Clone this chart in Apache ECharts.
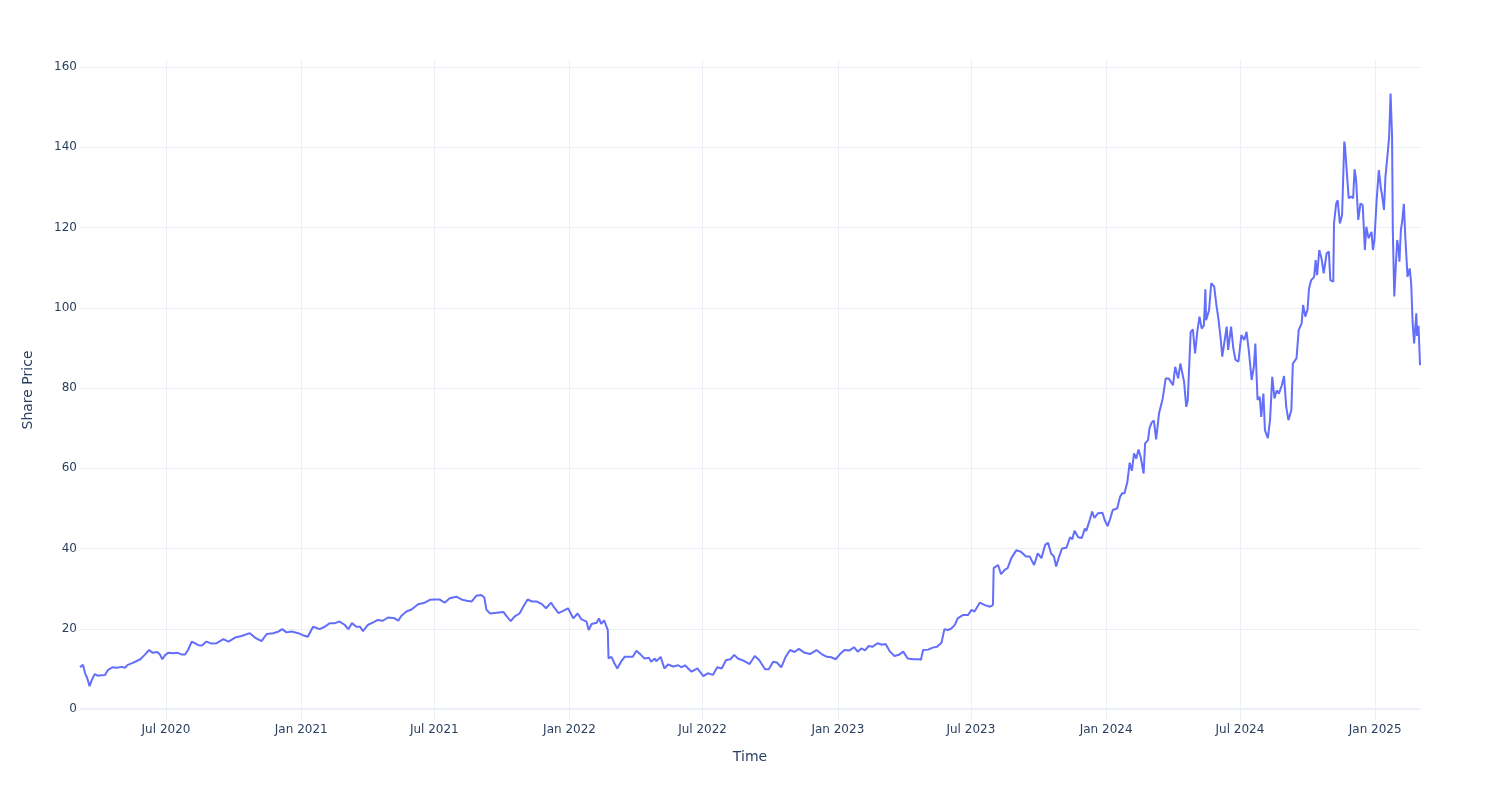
<!DOCTYPE html>
<html><head><meta charset="utf-8">
<script src="https://cdn.jsdelivr.net/npm/echarts@6/dist/echarts.min.js"></script>
<style>html,body{margin:0;padding:0;background:#fff}#c{width:1500px;height:800px}</style>
</head><body><div id="c"></div>
<script>
const dates2020 = ['2020-03-06','2020-03-10','2020-03-13','2020-03-16','2020-03-19','2020-03-22','2020-03-26','2020-03-30',
'2020-04-04','2020-04-09','2020-04-13','2020-04-19','2020-04-25',
'2020-05-02','2020-05-06','2020-05-10','2020-05-17','2020-05-27',
'2020-06-02','2020-06-08','2020-06-13','2020-06-19','2020-06-23','2020-06-26','2020-06-30',
'2020-07-04','2020-07-11','2020-07-17','2020-07-22','2020-07-27','2020-07-31',
'2020-08-05','2020-08-09','2020-08-14','2020-08-19','2020-08-25',
'2020-09-01','2020-09-08','2020-09-17','2020-09-24',
'2020-10-03','2020-10-12','2020-10-23','2020-10-30',
'2020-11-08','2020-11-15','2020-11-24',
'2020-12-01','2020-12-06','2020-12-12','2020-12-19','2020-12-28'];
const prices2020 = [10.4,11.0,8.9,7.6,5.7,7.2,8.7,8.3,
8.4,8.5,9.7,10.4,10.3,
10.5,10.3,11.0,11.5,12.4,
13.5,14.7,14.0,14.2,13.5,12.4,13.5,
14.0,13.9,14.0,13.6,13.6,14.7,
16.8,16.4,15.9,15.8,16.8,
16.3,16.4,17.4,16.8,
17.8,18.2,18.9,17.8,
16.9,18.7,18.9,
19.3,19.9,19.1,19.3,18.9];

const dates2021 = ['2021-01-03','2021-01-10','2021-01-17','2021-01-22','2021-01-26',
'2021-02-02','2021-02-09','2021-02-16','2021-02-22',
'2021-03-01','2021-03-06','2021-03-11','2021-03-17','2021-03-22','2021-03-26',
'2021-04-02','2021-04-09','2021-04-15','2021-04-22','2021-04-29',
'2021-05-08','2021-05-13','2021-05-17','2021-05-24','2021-05-31',
'2021-06-09','2021-06-18','2021-06-25',
'2021-07-02','2021-07-08','2021-07-15','2021-07-22','2021-07-31',
'2021-08-07','2021-08-14','2021-08-21','2021-08-27',
'2021-09-03','2021-09-07','2021-09-10','2021-09-15','2021-09-24',
'2021-10-03','2021-10-07','2021-10-13','2021-10-18','2021-10-25','2021-10-30',
'2021-11-01','2021-11-05','2021-11-11','2021-11-17','2021-11-24','2021-11-30',
'2021-12-07','2021-12-11','2021-12-17','2021-12-24','2021-12-30'];
const prices2021 = [18.4,18.0,20.5,20.2,19.9,
20.5,21.4,21.4,21.8,
21.0,19.9,21.4,20.5,20.5,19.4,
21.0,21.6,22.2,22.0,22.8,
22.6,22.0,23.2,24.3,24.8,
26.1,26.5,27.2,
27.3,27.3,26.5,27.6,28.0,
27.3,27.0,26.8,28.2,
28.4,27.8,24.7,23.8,24.0,
24.2,23.2,21.9,23.0,23.8,25.5,
25.1,27.3,26.8,26.8,26.2,25.1,
26.5,25.3,23.9,24.5,25.1];

const dates2022 = ['2022-01-06','2022-01-12','2022-01-17','2022-01-24','2022-01-27','2022-01-31',
'2022-02-07','2022-02-10','2022-02-13','2022-02-17','2022-02-22','2022-02-23','2022-02-27',
'2022-03-03','2022-03-07','2022-03-12','2022-03-17','2022-03-23','2022-03-28',
'2022-04-02','2022-04-08','2022-04-13','2022-04-19','2022-04-22','2022-04-27','2022-04-29',
'2022-05-05','2022-05-10','2022-05-15','2022-05-22','2022-05-29',
'2022-06-02','2022-06-07','2022-06-16','2022-06-24',
'2022-07-02','2022-07-08','2022-07-15','2022-07-21','2022-07-27',
'2022-08-02','2022-08-08','2022-08-13','2022-08-18','2022-08-25',
'2022-09-03','2022-09-10','2022-09-16','2022-09-24','2022-09-29',
'2022-10-05','2022-10-10','2022-10-16','2022-10-22','2022-10-28',
'2022-11-03','2022-11-09','2022-11-17','2022-11-24',
'2022-12-03','2022-12-10','2022-12-17','2022-12-23','2022-12-29'];
const prices2022 = [22.6,23.8,22.4,21.8,19.7,21.2,
21.5,22.6,21.2,22.1,19.7,12.6,13.0,
11.4,10.1,11.8,13.0,13.0,13.0,
14.5,13.5,12.6,12.8,11.8,12.6,11.9,
13.0,10.1,11.1,10.6,10.9,
10.4,10.9,9.3,10.1,
8.2,8.9,8.5,10.4,10.1,
12.2,12.4,13.5,12.6,12.1,
11.2,13.2,12.2,9.9,9.9,
11.8,11.6,10.4,13.0,14.7,
14.2,15.0,14.0,13.7,
14.7,13.7,13.0,12.9,12.4];

const dates2023 = ['2023-01-04','2023-01-10','2023-01-17','2023-01-23','2023-01-28',
'2023-02-02','2023-02-07','2023-02-12','2023-02-17','2023-02-24',
'2023-03-02','2023-03-07','2023-03-13','2023-03-19','2023-03-25','2023-03-31',
'2023-04-06','2023-04-13','2023-04-21','2023-04-24','2023-04-27',
'2023-05-04','2023-05-10','2023-05-16','2023-05-22','2023-05-26','2023-05-31',
'2023-06-04','2023-06-09','2023-06-13','2023-06-20','2023-06-27',
'2023-07-02','2023-07-06','2023-07-13','2023-07-20','2023-07-27','2023-07-31',
'2023-08-01','2023-08-07','2023-08-11','2023-08-16','2023-08-20','2023-08-25',
'2023-09-01','2023-09-07','2023-09-14','2023-09-19','2023-09-25','2023-09-30',
'2023-10-05','2023-10-10','2023-10-14','2023-10-18','2023-10-22','2023-10-25','2023-10-29',
'2023-11-02','2023-11-08','2023-11-13','2023-11-16','2023-11-19','2023-11-24','2023-11-29',
'2023-12-03','2023-12-05','2023-12-10','2023-12-13','2023-12-16','2023-12-21','2023-12-27','2023-12-30'];
const prices2023 = [13.7,14.7,14.6,15.4,14.3,
15.1,14.6,15.7,15.5,16.4,
16.0,16.2,14.3,13.2,13.5,14.3,
12.6,12.4,12.4,12.3,14.7,
14.8,15.3,15.5,16.5,19.9,19.7,
20.0,20.9,22.6,23.4,23.4,
24.7,24.3,26.5,25.9,25.5,25.9,
35.1,35.9,33.6,34.7,35.1,37.6,
39.6,39.2,38.0,38.0,35.9,38.8,
37.6,40.9,41.4,38.8,38.0,35.5,38.0,
40.0,40.2,42.8,42.3,44.4,42.8,42.6,
45.0,44.4,47.3,49.2,47.6,48.8,48.9,47.1];

const dates2024 = ['2024-01-03','2024-01-06','2024-01-10','2024-01-16','2024-01-20','2024-01-23','2024-01-26','2024-01-30',
'2024-02-02','2024-02-05','2024-02-08','2024-02-11','2024-02-14','2024-02-17','2024-02-21','2024-02-23','2024-02-27','2024-02-29',
'2024-03-03','2024-03-06','2024-03-09','2024-03-13','2024-03-18','2024-03-22','2024-03-26',
'2024-04-01','2024-04-04','2024-04-08','2024-04-11','2024-04-16','2024-04-19','2024-04-21','2024-04-25','2024-04-28',
'2024-05-01','2024-05-04','2024-05-07','2024-05-10','2024-05-13','2024-05-15','2024-05-16','2024-05-20','2024-05-23','2024-05-27','2024-05-30',
'2024-06-02','2024-06-05','2024-06-07','2024-06-09','2024-06-13','2024-06-15','2024-06-19','2024-06-22','2024-06-25','2024-06-29',
'2024-07-03','2024-07-07','2024-07-10','2024-07-13','2024-07-17','2024-07-20','2024-07-22','2024-07-25','2024-07-28','2024-07-30',
'2024-08-02','2024-08-04','2024-08-08','2024-08-11','2024-08-14','2024-08-17','2024-08-20','2024-08-23','2024-08-27','2024-08-30',
'2024-09-02','2024-09-05','2024-09-09','2024-09-11','2024-09-16','2024-09-19','2024-09-23','2024-09-25','2024-09-28',
'2024-10-01','2024-10-03','2024-10-06','2024-10-10','2024-10-12','2024-10-14','2024-10-17','2024-10-20','2024-10-23','2024-10-27','2024-10-30',
'2024-11-01','2024-11-05','2024-11-06','2024-11-09','2024-11-11','2024-11-14','2024-11-17','2024-11-20','2024-11-21','2024-11-24','2024-11-26','2024-11-29',
'2024-12-02','2024-12-04','2024-12-06','2024-12-09','2024-12-12','2024-12-15','2024-12-18','2024-12-20','2024-12-23','2024-12-27','2024-12-29','2024-12-31'];
const prices2024 = [45.6,47.1,49.6,50.0,52.9,53.8,53.8,56.7,
61.4,59.4,63.7,62.4,64.7,62.8,58.7,66.2,67.0,70.0,
71.4,71.9,67.2,73.7,77.4,82.4,82.4,
80.7,85.3,82.4,86.1,81.6,75.3,76.8,94.0,94.6,
88.6,94.0,97.8,94.8,95.6,104.6,96.9,99.4,106.1,105.3,100.7,
96.9,92.0,87.8,90.3,95.3,89.5,95.3,89.9,87.0,86.6,
93.2,92.0,94.0,89.5,82.0,85.3,91.1,77.0,77.8,72.8,
78.6,69.5,67.5,72.0,82.8,77.4,79.4,78.6,80.7,83.0,
75.3,72.0,74.5,86.1,87.4,94.5,96.1,100.7,97.8,
99.6,104.8,106.9,107.7,111.9,108.1,114.4,112.3,108.6,113.6,114.0,
106.9,106.5,121.0,126.0,126.8,121.0,123.1,141.4,140.2,132.3,127.3,127.7,
127.3,134.5,132.0,121.9,126.0,125.6,114.4,120.2,117.3,118.9,114.4,116.9];

const dates2025 = ['2025-01-03','2025-01-06','2025-01-09','2025-01-10','2025-01-13','2025-01-15','2025-01-18','2025-01-20','2025-01-22','2025-01-24','2025-01-25','2025-01-27','2025-01-29','2025-01-31',
'2025-02-02','2025-02-03','2025-02-05','2025-02-07','2025-02-09','2025-02-11','2025-02-14','2025-02-17','2025-02-19','2025-02-21','2025-02-23','2025-02-26','2025-02-27',
'2025-03-01','2025-03-03'];
const prices2025 = [126.9,134.3,129.4,128.6,124.4,132.7,138.5,142.6,153.4,142.6,119.4,102.8,110.2,116.9,
114.4,111.5,119.4,121.9,125.9,117.7,107.7,109.8,106.1,96.1,91.1,98.6,93.0,
95.5,85.7];

const xTickDates = ['2020-07-01','2021-01-01','2021-07-01','2022-01-01','2022-07-01','2023-01-01','2023-07-01','2024-01-01','2024-07-01','2025-01-01'];
const yTicks = [0,20,40,60,80,100,120,140,160];
const monthNames = ['Jan','Feb','Mar','Apr','May','Jun','Jul','Aug','Sep','Oct','Nov','Dec'];

const dates = [].concat(dates2020, dates2021, dates2022, dates2023, dates2024, dates2025);
const prices = [].concat(prices2020, prices2021, prices2022, prices2023, prices2024, prices2025);
const toTime = s => Date.parse(s + 'T00:00:00Z');
const seriesData = dates.map((d, i) => [toTime(d), prices[i]]);
const xTickValues = xTickDates.map(toTime);

const FONT = 'DejaVu Sans';
const TXT = '#2a3f5f';
const GRID = '#EBF0F8';

const chart = echarts.init(document.getElementById('c'), null, {renderer: 'canvas'});
chart.setOption({
  animation: false,
  backgroundColor: '#ffffff',
  textStyle: {fontFamily: FONT},
  grid: {left: 80, right: 80, top: 60, bottom: 80, containLabel: false},
  xAxis: {
    type: 'value',
    min: toTime(dates[0]),
    max: toTime(dates[dates.length - 1]),
    name: 'Time',
    nameLocation: 'middle',
    nameGap: 30,
    nameTextStyle: {fontSize: 14, color: TXT, fontFamily: FONT},
    axisLine: {show: false, onZero: false},
    axisTick: {show: false, customValues: xTickValues},
    axisLabel: {
      customValues: xTickValues,
      formatter: function (v) { const d = new Date(v); return monthNames[d.getUTCMonth()] + ' ' + d.getUTCFullYear(); },
      color: TXT, fontSize: 12, margin: 4, fontFamily: FONT
    },
    splitLine: {show: true, lineStyle: {color: GRID, width: 1}}
  },
  yAxis: {
    type: 'value',
    min: -2.74,
    max: 161.75,
    name: 'Share Price',
    nameLocation: 'middle',
    nameGap: 45,
    nameTextStyle: {fontSize: 14, color: TXT, fontFamily: FONT},
    axisLine: {show: false},
    axisTick: {show: false, customValues: yTicks},
    axisLabel: {customValues: yTicks, color: TXT, fontSize: 12, margin: 3, fontFamily: FONT},
    splitLine: {show: true, lineStyle: {color: GRID, width: 1}}
  },
  series: [{
    type: 'line',
    data: seriesData,
    showSymbol: false,
    symbol: 'none',
    lineStyle: {color: '#636efa', width: 2},
    itemStyle: {color: '#636efa'},
    emphasis: {disabled: true},
    markLine: {
      silent: true,
      symbol: ['none', 'none'],
      label: {show: false},
      lineStyle: {color: GRID, width: 2, type: 'solid'},
      data: [{yAxis: 0}]
    }
  }]
});
</script>
</body></html>
